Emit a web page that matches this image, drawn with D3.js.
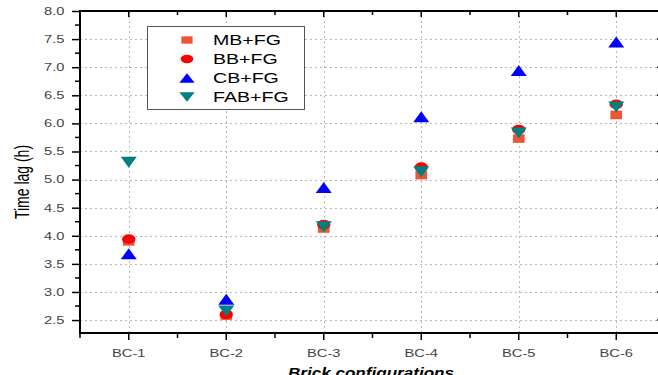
<!DOCTYPE html>
<html>
<head>
<meta charset="utf-8">
<script src="https://cdn.jsdelivr.net/npm/d3@7"></script>
<style>
  html, body { margin: 0; padding: 0; background: #fff; }
  svg { display: block; }
</style>
</head>
<body>
<svg id="chart" width="658" height="375"></svg>
<script>
// Brick configurations on the x axis
const categories = ["BC-1", "BC-2", "BC-3", "BC-4", "BC-5", "BC-6"];

// Time lag (h) for each wall system
const mbFg  = [3.90, 2.58, 4.13, 5.08, 5.73, 6.15];
const bbFg  = [3.94, 2.60, 4.20, 5.22, 5.89, 6.34];
const cbFg  = [3.68, 2.87, 4.86, 6.12, 6.94, 7.45];
const fabFg = [5.31, 2.66, 4.16, 5.14, 5.83, 6.29];

const seriesNames = ["MB+FG", "BB+FG", "CB+FG", "FAB+FG"];
const yTicks = [2.5, 3.0, 3.5, 4.0, 4.5, 5.0, 5.5, 6.0, 6.5, 7.0, 7.5, 8.0];

const series = [
  { name: seriesNames[0], values: mbFg,  symbol: "square", color: "#EE5535", rot: 0 },
  { name: seriesNames[1], values: bbFg,  symbol: "circle", color: "#FF0000", rot: 0 },
  { name: seriesNames[2], values: cbFg,  symbol: "tri",    color: "#0000FF", rot: 0 },
  { name: seriesNames[3], values: fabFg, symbol: "tri",    color: "#008080", rot: 180 }
];

const FONT = "Liberation Sans, Arial, sans-serif";
const SX = 1.4; // horizontal stretch of the lettering and symbols

const svg = d3.select("#chart");
const plotL = 80, plotR = 665, plotT = 11, plotB = 333;

const x = d3.scaleBand().domain(categories).range([plotL, plotR]).paddingInner(0).paddingOuter(0);
const xc = c => x(c) + x.bandwidth() / 2;
const y = d3.scaleLinear().domain([2.27, 8.0]).range([plotB, plotT]);

// base symbol shapes, centred on origin (stretched later)
function symPath(s) {
  if (s.symbol === "tri") { const w = 11.8, h = 11; return `M0,${-h / 2}L${w / 2},${h / 2}L${-w / 2},${h / 2}Z`; }
  if (s.symbol === "square") return d3.symbol().type(d3.symbolSquare).size(8.6 * 8.6)();
  return d3.symbol().type(d3.symbolCircle).size(Math.PI * 4.9 * 4.9)();
}

// grid lines
const grid = svg.append("g").attr("stroke", "#b8b8b8").attr("stroke-width", 1).attr("stroke-dasharray", "2,3");
yTicks.filter(t => t < 8).forEach(t => {
  grid.append("line").attr("x1", plotL).attr("x2", plotR).attr("y1", Math.round(y(t)) + 0.5).attr("y2", Math.round(y(t)) + 0.5);
});
categories.forEach(c => {
  grid.append("line").attr("x1", Math.round(xc(c)) + 0.5).attr("x2", Math.round(xc(c)) + 0.5).attr("y1", plotT).attr("y2", plotB);
});

// minor tick positions
const yMinor = d3.range(2.25, 8.0001, 0.25).filter(v => v >= 2.27 && Math.abs(v * 2 - Math.round(v * 2)) > 1e-6);
const xMinor = categories.map(c => x(c)).concat([plotR]);

// left axis
const yAxis = d3.axisLeft(y).tickValues(yTicks).tickFormat(d3.format(".1f")).tickSize(8);
const gL = svg.append("g").attr("transform", `translate(${plotL},0)`).call(yAxis);
gL.select(".domain").remove();
gL.selectAll("line").attr("stroke", "#000").attr("stroke-width", 1.5);
gL.selectAll("text").attr("font-family", FONT).attr("font-size", 10.5).attr("fill", "#444")
  .attr("x", -15.5 / SX).attr("transform", `scale(${SX},1)`);
yMinor.forEach(v => gL.append("line").attr("x1", -5).attr("x2", 0).attr("y1", y(v)).attr("y2", y(v)).attr("stroke", "#000").attr("stroke-width", 1.5));

// right axis (ticks inward)
const gR = svg.append("g").attr("transform", `translate(${plotR},0)`);
yTicks.forEach(v => gR.append("line").attr("x1", -8).attr("x2", 0).attr("y1", y(v)).attr("y2", y(v)).attr("stroke", "#000").attr("stroke-width", 1.5));
yMinor.forEach(v => gR.append("line").attr("x1", -5).attr("x2", 0).attr("y1", y(v)).attr("y2", y(v)).attr("stroke", "#000").attr("stroke-width", 1.5));

// bottom axis
const xAxis = d3.axisBottom(x).tickSize(7).tickPadding(10);
const gB = svg.append("g").attr("transform", `translate(0,${plotB})`).call(xAxis);
gB.select(".domain").remove();
gB.selectAll("line").attr("stroke", "#000").attr("stroke-width", 1.5);
gB.selectAll("text").attr("font-family", FONT).attr("font-size", 10.5).attr("fill", "#444")
  .attr("transform", `scale(${SX},1)`);
xMinor.forEach(v => gB.append("line").attr("x1", v).attr("x2", v).attr("y1", 0).attr("y2", 5).attr("stroke", "#000").attr("stroke-width", 1.5));

// top axis (ticks inward)
const gT = svg.append("g").attr("transform", `translate(0,${plotT})`);
categories.forEach(c => gT.append("line").attr("x1", xc(c)).attr("x2", xc(c)).attr("y1", 0).attr("y2", 6).attr("stroke", "#000").attr("stroke-width", 1.5));
xMinor.forEach(v => gT.append("line").attr("x1", v).attr("x2", v).attr("y1", 0).attr("y2", 4).attr("stroke", "#000").attr("stroke-width", 1.5));

// frame
svg.append("rect").attr("x", plotL).attr("y", plotT).attr("width", plotR - plotL).attr("height", plotB - plotT)
  .attr("fill", "none").attr("stroke", "#000").attr("stroke-width", 2);

// markers
series.forEach(s => {
  svg.append("g").selectAll("path").data(s.values).join("path")
    .attr("d", symPath(s))
    .attr("transform", (d, i) => `translate(${xc(categories[i])},${y(d)}) scale(${SX * 0.97},1) rotate(${s.rot})`)
    .attr("fill", s.color);
});

// legend
const lg = svg.append("g");
lg.append("rect").attr("x", 147.5).attr("y", 26.5).attr("width", 157).attr("height", 83)
  .attr("fill", "#fff").attr("stroke", "#555").attr("stroke-width", 1);
series.forEach((s, i) => {
  const yy = 40 + i * 19;
  lg.append("path").attr("d", symPath(s)).attr("transform", `translate(187,${yy}) scale(1.3,0.85) rotate(${s.rot})`).attr("fill", s.color);
  lg.append("text").attr("transform", `translate(213,${yy + 5}) scale(${SX},1)`).text(s.name)
    .attr("font-family", FONT).attr("font-size", 14).attr("fill", "#000");
});

// axis titles
svg.append("text").attr("transform", `translate(29,182) scale(${SX},1) rotate(-90)`).attr("text-anchor", "middle")
  .attr("font-family", FONT).attr("font-size", 14).attr("fill", "#000").text("Time lag (h)");
svg.append("text").attr("transform", "translate(371,378) scale(1.22,1)").attr("text-anchor", "middle")
  .attr("font-family", FONT).attr("font-size", 14).attr("font-weight", "bold").attr("font-style", "italic")
  .attr("fill", "#000").text("Brick configurations");
</script>
</body>
</html>
